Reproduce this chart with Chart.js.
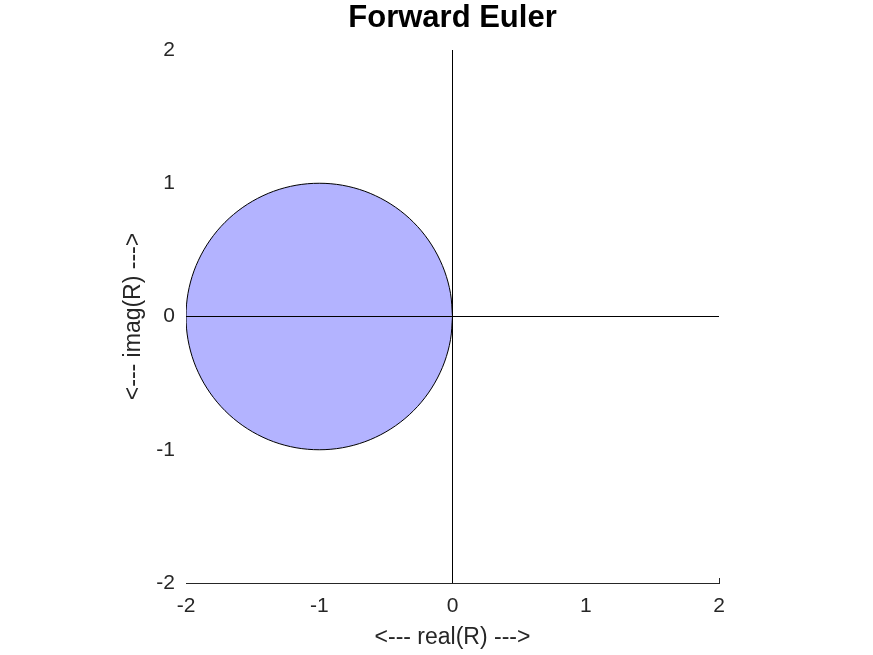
<!DOCTYPE html>
<html>
<head>
<meta charset="utf-8">
<title>Forward Euler</title>
<script src="https://cdn.jsdelivr.net/npm/chart.js@4"></script>
<style>
  html, body { margin: 0; padding: 0; background: #fff; }
  canvas { display: block; }
</style>
</head>
<body>
<canvas id="chart" width="873" height="655"></canvas>
<script>
// Stability region of forward Euler: |1 + z| <= 1 (circle around -1)
const circleX = [0, -0.015, -0.060, -0.134, -0.234, -0.357, -0.5, -0.658, -0.826, -1,
  -1.174, -1.342, -1.5, -1.643, -1.766, -1.866, -1.940, -1.985, -2,
  -1.985, -1.940, -1.866, -1.766, -1.643, -1.5, -1.342, -1.174, -1,
  -0.826, -0.658, -0.5, -0.357, -0.234, -0.134, -0.060, -0.015, 0];
const circleY = [0, 0.174, 0.342, 0.5, 0.643, 0.766, 0.866, 0.940, 0.985, 1,
  0.985, 0.940, 0.866, 0.766, 0.643, 0.5, 0.342, 0.174, 0,
  -0.174, -0.342, -0.5, -0.643, -0.766, -0.866, -0.940, -0.985, -1,
  -0.985, -0.940, -0.866, -0.766, -0.643, -0.5, -0.342, -0.174, 0];

// Real and imaginary axis lines
const realAxisX = [-2, 2];
const realAxisY = [0, 0];
const imagAxisX = [0, 0];
const imagAxisY = [-2, 2];

const tickValues = [-2, -1, 0, 1, 2];

const toPoints = (xs, ys) => xs.map((x, i) => ({ x: x, y: ys[i] }));

const textColor = '#262626';
const fontFamily = 'Liberation Sans, Arial, Helvetica, sans-serif';
const tickFont = { family: fontFamily, size: 21 };
const axisTitleFont = { family: fontFamily, size: 23 };

// small tick at the right end of the bottom axis
const endTick = {
  id: 'endTick',
  afterDraw(chart) {
    const x = chart.scales.x;
    const px = Math.round(x.getPixelForValue(tickValues[tickValues.length - 1])) + 0.5;
    const ctx = chart.ctx;
    ctx.save();
    ctx.strokeStyle = textColor;
    ctx.lineWidth = 1;
    ctx.beginPath();
    ctx.moveTo(px, chart.chartArea.bottom);
    ctx.lineTo(px, chart.chartArea.bottom - 5);
    ctx.stroke();
    ctx.restore();
  }
};

new Chart(document.getElementById('chart'), {
  type: 'scatter',
  data: {
    datasets: [
      {
        label: 'real axis',
        data: toPoints(realAxisX, realAxisY),
        showLine: true,
        borderColor: '#000',
        borderWidth: 1,
        pointRadius: 0,
        fill: false,
        order: 0
      },
      {
        label: 'imag axis',
        data: toPoints(imagAxisX, imagAxisY),
        showLine: true,
        borderColor: '#000',
        borderWidth: 1,
        pointRadius: 0,
        fill: false,
        order: 0
      },
      {
        label: 'stability region',
        data: toPoints(circleX, circleY),
        showLine: true,
        borderColor: '#000',
        borderWidth: 1,
        backgroundColor: '#b3b3ff',
        fill: 'shape',
        pointRadius: 0,
        tension: 0.333,
        order: 1
      }
    ]
  },
  options: {
    responsive: false,
    animation: false,
    events: [],
    layout: { padding: { left: 0, right: 154, top: 0, bottom: 0 } },
    plugins: {
      legend: { display: false },
      tooltip: { enabled: false },
      title: {
        display: true,
        fullSize: false,
        text: 'Forward Euler',
        color: '#000',
        font: { family: fontFamily, size: 31, weight: 'bold' },
        padding: { top: 0, bottom: 12.8 }
      }
    },
    scales: {
      x: {
        type: 'linear',
        min: -2,
        max: 2,
        afterBuildTicks: s => { s.ticks = tickValues.map(v => ({ value: v })); },
        afterFit: s => { s.height = 72; },
        grid: { display: true, drawOnChartArea: false, drawTicks: false },
        border: { display: true, color: textColor, width: 1 },
        ticks: { color: textColor, font: tickFont, padding: 10.4, maxRotation: 0 },
        title: {
          display: true,
          text: '<--- real(R) --->',
          color: textColor,
          font: axisTitleFont,
          padding: { top: 0, bottom: 3.2 }
        }
      },
      y: {
        type: 'linear',
        min: -2,
        max: 2,
        afterBuildTicks: s => { s.ticks = tickValues.map(v => ({ value: v })); },
        afterFit: s => { s.width = 186; },
        grid: { display: false, drawTicks: false },
        border: { display: false },
        ticks: { color: textColor, font: tickFont, padding: 11 },
        title: {
          display: true,
          text: '<--- imag(R) --->',
          color: textColor,
          font: axisTitleFont,
          padding: { top: 120.2, bottom: 0 }
        }
      }
    }
  },
  plugins: [endTick]
});
</script>
</body>
</html>
